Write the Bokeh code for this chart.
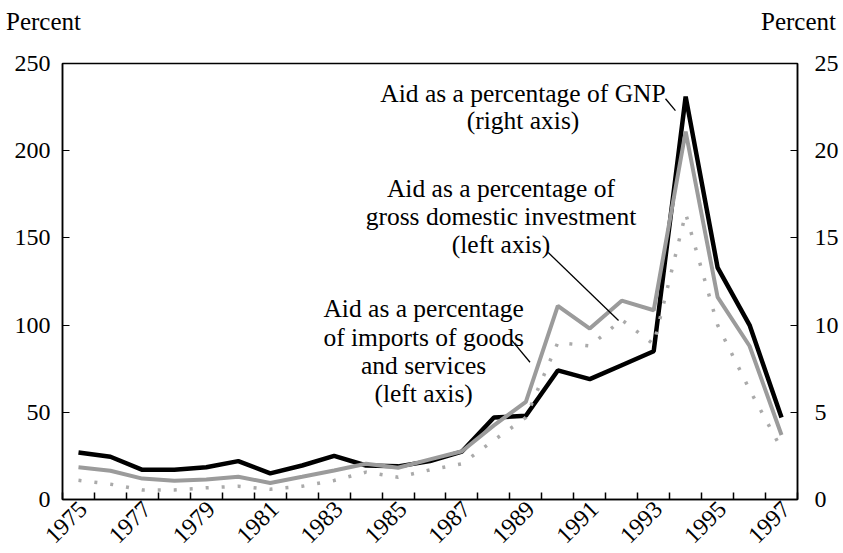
import math
from bokeh.plotting import figure
from bokeh.models import Range1d, LinearAxis, FixedTicker, Div
from bokeh.layouts import column
from bokeh.core.properties import value
from bokeh.embed import file_html
from bokeh.resources import INLINE

# Annual series, 1975-1997
years = list(range(1975, 1998))
aid_gnp = [2.7, 2.45, 1.7, 1.7, 1.85, 2.2, 1.5, 1.95, 2.5, 1.95, 1.9, 2.2,
           2.75, 4.7, 4.8, 7.4, 6.9, 7.7, 8.5, 23.1, 13.3, 10.0, 4.7]          # right axis
aid_imports = [18.5, 16.5, 12.0, 10.8, 11.5, 13.0, 9.5, 13.0, 16.6, 20.5, 18.2, 23.0,
               27.7, 42.5, 56.0, 111.0, 98.0, 114.0, 108.5, 211.0, 116.0, 88.0, 37.0]  # left axis
aid_gdi = [11.0, 8.8, 5.5, 5.5, 6.7, 7.6, 5.9, 7.6, 10.9, 15.7, 12.8, 17.0,
           20.5, 34.0, 47.0, 90.0, 88.0, 103.0, 89.0, 164.0, 100.0, 63.0, 29.0]    # left axis

left_ticks = [0, 50, 100, 150, 200, 250]
right_ticks = [0, 5, 10, 15, 20, 25]
year_labels = [1975, 1977, 1979, 1981, 1983, 1985, 1987, 1989, 1991, 1993, 1995, 1997]

FONT = "Liberation Serif"
CAPTION_H = 40

p = figure(width=843, height=553 - CAPTION_H, output_backend="svg", toolbar_location=None,
           x_range=Range1d(1974.5, 1997.5), y_range=Range1d(0, 250),
           min_border_left=62, min_border_right=46, min_border_top=63 - CAPTION_H,
           min_border_bottom=54)
p.grid.visible = False
p.outline_line_color = "black"
p.outline_line_width = 1.5
p.background_fill_color = "white"
p.border_fill_color = "white"

# right-hand scale for the GNP share
p.extra_y_ranges = {"gnp": Range1d(0, 25)}

# bottom axis: labels on odd years (nudged so the rotated text ends at the year),
# inward ticks between years
LABEL_NUDGE = 0.15
xa = p.xaxis[0]
xa.ticker = FixedTicker(ticks=[y + LABEL_NUDGE for y in year_labels],
                        minor_ticks=[y + 0.5 for y in range(1974, 1998)])
xa.major_label_overrides = {y + LABEL_NUDGE: str(y) for y in year_labels}
xa.major_tick_in = 0
xa.major_tick_out = 0
xa.minor_tick_in = 7
xa.minor_tick_out = 0
xa.minor_tick_line_color = "black"
xa.minor_tick_line_width = 1.5
xa.axis_line_width = 1.5
xa.major_label_orientation = math.pi / 4
xa.major_label_standoff = 6
xa.major_label_text_font = FONT
xa.major_label_text_font_size = "24px"
xa.major_label_text_color = "black"

ya = p.yaxis[0]
ya.ticker = FixedTicker(ticks=left_ticks)
ya.major_tick_in = 7
ya.major_tick_out = 0
ya.minor_tick_line_color = None
ya.axis_line_width = 1.5
ya.major_label_standoff = 12
ya.major_label_text_font = FONT
ya.major_label_text_font_size = "24px"
ya.major_label_text_color = "black"

ra = LinearAxis(y_range_name="gnp", ticker=FixedTicker(ticks=right_ticks))
ra.major_tick_in = 7
ra.major_tick_out = 0
ra.minor_tick_line_color = None
ra.axis_line_width = 1.5
ra.major_label_standoff = 17
ra.major_label_text_font = FONT
ra.major_label_text_font_size = "24px"
ra.major_label_text_color = "black"
p.add_layout(ra, "right")

# series
p.line(years, aid_gnp, y_range_name="gnp", line_color="black", line_width=4.5)
p.line(years, aid_imports, line_color="#9b9b9b", line_width=4)
p.line(years, aid_gdi, line_color="#aaaaaa", line_width=3.5, line_dash="3 13")

# callout texts
notes = [
    (1988.91, 232.6, "Aid as a percentage of GNP"),
    (1988.91, 217.3, "(right axis)"),
    (1988.22, 178.3, "Aid as a percentage of"),
    (1988.22, 162.0, "gross domestic investment"),
    (1988.22, 146.4, "(left axis)"),
    (1985.80, 109.3, "Aid as a percentage"),
    (1985.80, 93.1, "of imports of goods"),
    (1985.80, 76.8, "and services"),
    (1985.80, 60.6, "(left axis)"),
]
p.text(x=[n[0] for n in notes], y=[n[1] for n in notes], text=[n[2] for n in notes],
       text_font=value(FONT), text_font_size="25.5px", text_align="center",
       text_baseline="alphabetic", text_color="black")

# leader lines from the callouts to their series
p.segment(x0=[1993.37, 1989.70, 1988.56], y0=[229.8, 141.6, 91.2],
          x1=[1993.68, 1991.90, 1989.13], y1=[223.0, 102.6, 78.7],
          line_color="black", line_width=1.3)

# unit captions over both axes
caption = Div(
    text=('<div style="display:flex;justify-content:space-between;width:836px;'
          'padding-left:6px;font-family:\'Liberation Serif\';font-size:25px;'
          'line-height:25px;color:black;padding-top:9px">'
          '<span>Percent</span><span>Percent</span></div>'),
    width=843, height=CAPTION_H, margin=(0, 0, 0, 0),
    styles={"background-color": "white"})

layout = column(caption, p, spacing=0, margin=(0, 0, 0, 0))
open("out.html", "w").write(file_html(layout, INLINE))
